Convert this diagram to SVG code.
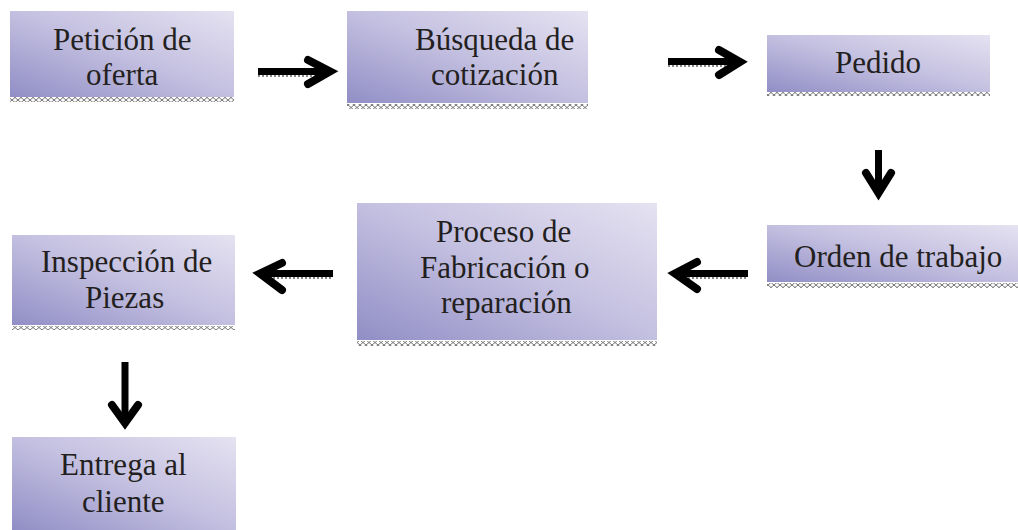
<svg xmlns="http://www.w3.org/2000/svg" width="1018" height="530" viewBox="0 0 1018 530">
<style>
.box{fill:url(#g)}
.zz{fill:url(#zig)}
.sh{fill:none;stroke:#000;stroke-width:7}
.hd{fill:none;stroke:#000;stroke-width:8;stroke-linecap:round}
.dots{fill:none;stroke:#888;stroke-width:2;stroke-dasharray:2 2}
</style>
<defs>
<linearGradient id="g" x1="0" y1="1" x2="1" y2="0">
<stop offset="0" stop-color="#918ec6"/>
<stop offset="0.5" stop-color="#c3bfe0"/>
<stop offset="1" stop-color="#e5e2f1"/>
</linearGradient>
<pattern id="zig" width="6" height="5" patternUnits="userSpaceOnUse">
<rect width="6" height="5" fill="#fff"/>
<path d="M0 0L3 2.5L6 0M0 5L3 2.5L6 5" fill="none" stroke="#777" stroke-width="1"/>
</pattern>
</defs>
<g id="n1">
<rect class="box" x="10" y="11" width="224" height="86"/>
<rect class="zz" x="10" y="97" width="224" height="5"/>
<text x="53" y="50" font-size="31" font-family="'Liberation Serif', Tinos, 'Times New Roman', serif" fill="#231f20">Petición de</text>
<text x="86" y="85" font-size="31" font-family="'Liberation Serif', Tinos, 'Times New Roman', serif" fill="#231f20">oferta</text>
</g>
<g id="n2">
<rect class="box" x="347" y="11" width="241" height="92"/>
<rect class="zz" x="347" y="104" width="241" height="5"/>
<text x="415" y="50" font-size="31" font-family="'Liberation Serif', Tinos, 'Times New Roman', serif" fill="#231f20">Búsqueda de</text>
<text x="431" y="85" font-size="31" font-family="'Liberation Serif', Tinos, 'Times New Roman', serif" fill="#231f20">cotización</text>
</g>
<g id="n3">
<rect class="box" x="767" y="35" width="223" height="57"/>
<rect class="zz" x="767" y="92" width="223" height="4"/>
<text x="835" y="73" font-size="31" font-family="'Liberation Serif', Tinos, 'Times New Roman', serif" fill="#231f20">Pedido</text>
</g>
<g id="n4">
<rect class="box" x="767" y="225" width="251" height="57"/>
<rect class="zz" x="767" y="283" width="251" height="5"/>
<text x="794" y="267" font-size="31" font-family="'Liberation Serif', Tinos, 'Times New Roman', serif" fill="#231f20">Orden de trabajo</text>
</g>
<g id="n5">
<rect class="box" x="357" y="203" width="300" height="137"/>
<rect class="zz" x="357" y="341" width="300" height="5"/>
<text x="436" y="242" font-size="31" font-family="'Liberation Serif', Tinos, 'Times New Roman', serif" fill="#231f20">Proceso de</text>
<text x="420" y="278" font-size="31" font-family="'Liberation Serif', Tinos, 'Times New Roman', serif" fill="#231f20">Fabricación o</text>
<text x="441" y="313" font-size="31" font-family="'Liberation Serif', Tinos, 'Times New Roman', serif" fill="#231f20">reparación</text>
</g>
<g id="n6">
<rect class="box" x="12" y="235" width="223" height="90"/>
<rect class="zz" x="12" y="326" width="223" height="4"/>
<text x="41" y="272" font-size="31" font-family="'Liberation Serif', Tinos, 'Times New Roman', serif" fill="#231f20">Inspección de</text>
<text x="85" y="308" font-size="31" font-family="'Liberation Serif', Tinos, 'Times New Roman', serif" fill="#231f20">Piezas</text>
</g>
<g id="n7">
<rect class="box" x="12" y="437" width="224" height="93"/>
<text x="60" y="475" font-size="31" font-family="'Liberation Serif', Tinos, 'Times New Roman', serif" fill="#231f20">Entrega al</text>
<text x="82" y="512" font-size="31" font-family="'Liberation Serif', Tinos, 'Times New Roman', serif" fill="#231f20">cliente</text>
</g>
<g id="connectors">
<line class="dots" x1="258" y1="76" x2="326" y2="76"/>
<line class="sh" x1="258" y1="71.5" x2="327" y2="71.5"/>
<path class="hd" d="M308 60L330 71.5L308 84"/>
<line class="dots" x1="668" y1="66" x2="736" y2="66"/>
<line class="sh" x1="668" y1="61.5" x2="737" y2="61.5"/>
<path class="hd" d="M719 50L740 62L719 75"/>
<line class="sh" x1="878.5" y1="150" x2="878.5" y2="190"/>
<path class="hd" d="M866 173L878.5 193L891 173"/>
<line class="dots" x1="680" y1="278" x2="748" y2="278"/>
<line class="sh" x1="678" y1="273.5" x2="748" y2="273.5"/>
<path class="hd" d="M697 262L675 273.5L697 289"/>
<line class="dots" x1="265" y1="278" x2="333" y2="278"/>
<line class="sh" x1="263" y1="273.5" x2="333" y2="273.5"/>
<path class="hd" d="M282 263L260 273.5L282 290"/>
<line class="sh" x1="125" y1="362" x2="125" y2="420"/>
<path class="hd" d="M112 405L125 423L138 405"/>
</g>
</svg>
